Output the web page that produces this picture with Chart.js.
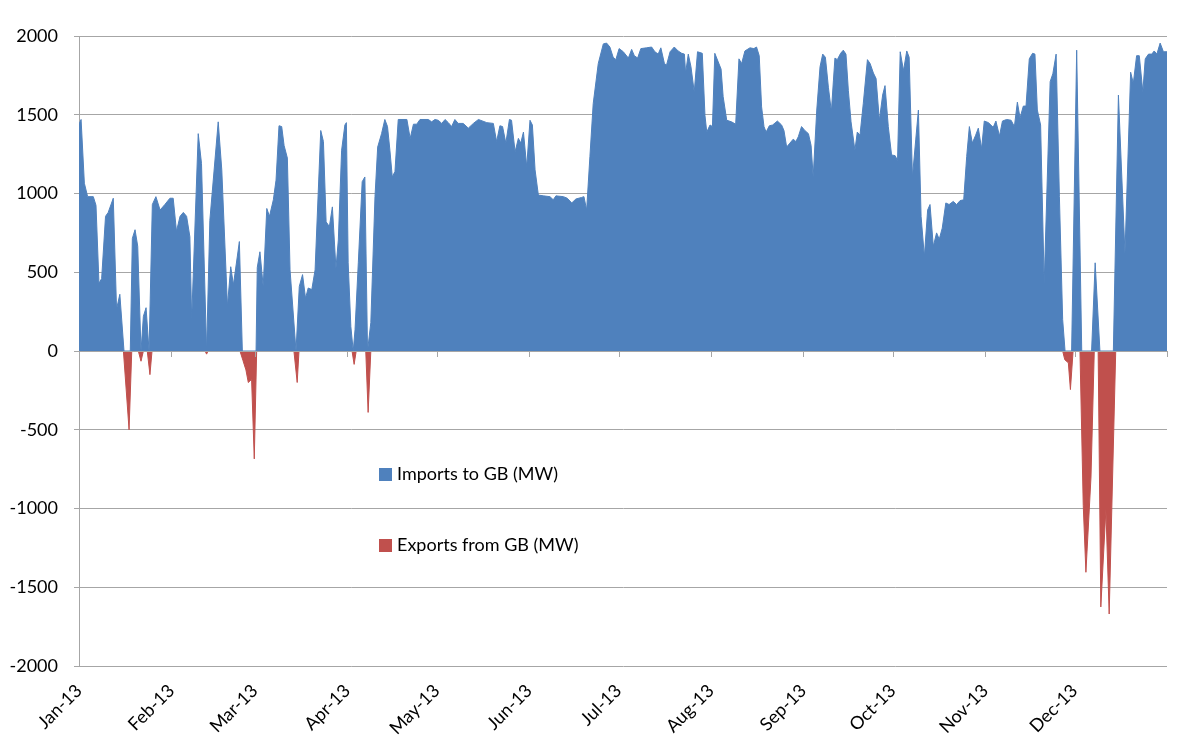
<!DOCTYPE html>
<html>
<head>
<meta charset="utf-8">
<script src="https://cdn.jsdelivr.net/npm/chart.js@4/dist/chart.umd.min.js"></script>
<style>
  body { margin: 0; background: #fff; }
  #wrap { position: relative; width: 1198px; height: 746px; }
  canvas { display: block; }
  .legend-item { position: absolute; font-family: Lato, "Open Sans", sans-serif; font-size: 18px; color: #000; white-space: nowrap; }
  .legend-item span { display: inline-block; width: 13px; height: 13px; margin-right: 5px; vertical-align: -1px; }
</style>
</head>
<body>
<div id="wrap">
  <canvas id="flowChart" width="1198" height="746"></canvas>
  <div class="legend-item" style="left:379px; top:462px;"><span style="background:#4F81BD"></span>Imports to GB (MW)</div>
  <div class="legend-item" style="left:379px; top:533px;"><span style="background:#C0504D"></span>Exports from GB (MW)</div>
</div>
<script>
// day of year (0 = 1 Jan 2013) and MW values
const importDays = [0, 0.7, 1.8, 2.9, 4.8, 5.7, 6.7, 7.6, 8.9, 9.8, 11.5, 12.6, 13.7, 15.1, 17.2, 17.9, 18.8, 19.7, 20.8, 21.6, 22.5, 23.5, 24.6, 25.8, 27.2, 28.8, 30.5, 31.6, 32.7, 33.9, 35.0, 36.1, 37.2, 37.8, 40.0, 41.1, 42.8, 43.9, 46.7, 47.9, 49.8, 50.9, 51.8, 53.8, 54.8, 59.4, 59.8, 60.7, 61.8, 63.0, 63.9, 65.2, 66.1, 67.1, 68.0, 68.8, 69.9, 70.8, 72.8, 73.9, 75.0, 76.0, 76.9, 78.1, 79.2, 81.1, 82.0, 82.9, 84.0, 85.0, 86.2, 87.0, 88.1, 89.2, 89.7, 90.3, 91.2, 92.0, 92.6, 93.7, 95.0, 95.9, 96.8, 97.9, 99.3, 100.2, 101.5, 102.6, 103.5, 104.3, 105.1, 106.0, 107.1, 110.0, 111.1, 112.2, 113.3, 114.4, 117.2, 118.3, 119.4, 120.5, 121.7, 122.8, 123.9, 125.0, 126.1, 127.2, 128.9, 130.6, 132.3, 134.0, 136.8, 139.0, 140.1, 141.2, 142.1, 143.2, 144.4, 145.1, 146.3, 147.4, 148.2, 149.1, 150.2, 151.3, 152.1, 153.0, 154.1, 155.8, 158.0, 159.1, 160.0, 162.5, 163.8, 165.3, 166.7, 168.6, 169.4, 170.3, 171.4, 172.5, 174.2, 175.9, 177.0, 178.1, 179.2, 180.1, 181.2, 182.6, 184.3, 185.4, 186.3, 187.4, 188.5, 190.4, 192.1, 193.2, 194.3, 195.2, 196.4, 197.1, 198.3, 199.7, 201.0, 202.2, 203.1, 203.5, 204.4, 205.3, 206.4, 207.5, 209.1, 210.0, 210.6, 211.7, 212.5, 213.3, 215.4, 216.1, 217.3, 218.9, 220.3, 221.4, 222.3, 223.4, 225.1, 226.4, 227.3, 228.2, 229.0, 229.8, 230.5, 231.6, 232.7, 234.3, 235.7, 236.5, 237.4, 238.5, 239.6, 240.5, 241.3, 242.4, 243.5, 244.7, 245.6, 246.3, 247.5, 248.6, 249.5, 250.4, 251.4, 252.4, 253.1, 253.6, 254.4, 255.5, 256.4, 257.3, 258.1, 259.0, 260.3, 261.1, 262.0, 263.1, 264.5, 265.4, 266.5, 267.4, 268.5, 269.6, 270.4, 271.5, 272.6, 273.8, 274.6, 275.5, 276.6, 277.7, 278.5, 279.6, 280.7, 281.6, 282.5, 283.6, 284.7, 285.5, 286.6, 287.7, 288.6, 289.6, 290.8, 291.9, 293.3, 294.4, 295.6, 296.8, 297.8, 298.7, 299.7, 300.8, 301.7, 302.8, 303.7, 305.1, 306.7, 307.6, 308.8, 309.8, 311.2, 312.7, 313.8, 314.8, 315.7, 316.8, 317.7, 318.8, 319.9, 320.7, 321.5, 322.6, 323.8, 325.8, 326.7, 327.8, 328.9, 330.0, 330.8, 333.0, 334.7, 336.4, 339.7, 340.9, 342.5, 347.0, 348.7, 350.9, 352.8, 353.7, 354.8, 355.7, 356.9, 357.7, 358.8, 359.9, 360.7, 361.6, 362.7, 363.8, 365];
const importMW = [1440, 1470, 1065, 980, 980, 925, 430, 460, 855, 880, 970, 265, 360, 0, 0, 715, 770, 665, 0, 220, 275, 0, 930, 980, 895, 930, 970, 970, 760, 855, 880, 855, 725, 200, 1380, 1190, 0, 830, 1455, 1150, 285, 535, 420, 695, 0, 0, 530, 630, 410, 905, 855, 960, 1085, 1430, 1425, 1305, 1225, 515, 0, 410, 485, 335, 400, 390, 515, 1400, 1330, 820, 790, 915, 525, 705, 1275, 1435, 1450, 560, 155, 0, 135, 560, 1075, 1105, 0, 180, 980, 1295, 1380, 1470, 1425, 1275, 1105, 1140, 1470, 1470, 1350, 1440, 1440, 1470, 1470, 1455, 1470, 1465, 1445, 1470, 1450, 1425, 1470, 1445, 1445, 1415, 1445, 1470, 1450, 1445, 1330, 1430, 1425, 1320, 1470, 1465, 1265, 1350, 1320, 1390, 1170, 1465, 1435, 1150, 990, 985, 980, 960, 985, 980, 970, 940, 965, 975, 980, 895, 1235, 1570, 1825, 1950, 1955, 1930, 1865, 1850, 1920, 1900, 1860, 1915, 1875, 1860, 1920, 1925, 1930, 1900, 1885, 1925, 1825, 1815, 1900, 1930, 1905, 1890, 1885, 1765, 1885, 1805, 1645, 1900, 1890, 1495, 1390, 1435, 1425, 1890, 1790, 1615, 1465, 1455, 1440, 1855, 1825, 1905, 1925, 1920, 1930, 1875, 1550, 1425, 1390, 1430, 1435, 1460, 1435, 1400, 1295, 1320, 1345, 1330, 1360, 1425, 1400, 1380, 1305, 1105, 1530, 1805, 1885, 1865, 1675, 1520, 1720, 1860, 1850, 1890, 1910, 1885, 1655, 1455, 1275, 1390, 1370, 1570, 1850, 1825, 1765, 1730, 1465, 1625, 1685, 1425, 1245, 1240, 1210, 1900, 1780, 1905, 1865, 1105, 1340, 1530, 855, 600, 895, 930, 665, 750, 710, 780, 940, 930, 950, 930, 955, 960, 1235, 1425, 1320, 1370, 1415, 1285, 1460, 1450, 1420, 1460, 1365, 1460, 1470, 1465, 1425, 1580, 1480, 1555, 1555, 1855, 1890, 1885, 1530, 1435, 430, 1710, 1760, 1885, 980, 200, 0, 0, 1910, 0, 0, 560, 0, 0, 1625, 620, 1770, 1700, 1875, 1875, 1645, 1855, 1885, 1885, 1905, 1885, 1955, 1900, 1900];

const exportDays = [0, 14.9, 16.8, 17.7, 19.9, 20.8, 21.6, 22.9, 23.8, 24.5, 42.3, 42.8, 43.3, 54.0, 55.0, 56.0, 56.8, 57.9, 58.8, 59.6, 72.1, 73.2, 73.8, 91.6, 92.3, 93.0, 96.2, 97.0, 97.9, 330.0, 330.7, 331.9, 332.6, 333.5, 335.8, 336.9, 337.8, 339.5, 340.6, 341.9, 342.8, 344.5, 345.6, 347.8, 365];
const exportMW = [0, 0, -500, 0, 0, -65, 0, 0, -150, 0, 0, -20, 0, 0, -60, -120, -200, -180, -685, 0, 0, -200, 0, 0, -85, 0, 0, -390, 0, 0, -55, -75, -245, 0, 0, -980, -1405, -800, 0, 0, -1625, -1005, -1670, 0, 0];

const monthStartDays = [0, 31, 59, 90, 120, 151, 181, 212, 243, 273, 304, 334];
const monthLabels = ['Jan-13', 'Feb-13', 'Mar-13', 'Apr-13', 'May-13', 'Jun-13', 'Jul-13', 'Aug-13', 'Sep-13', 'Oct-13', 'Nov-13', 'Dec-13'];

const gridGray = '#a6a6a6';
const fontFamily = 'Lato, "Open Sans", sans-serif';

// small tick marks hanging under the zero line, like the Excel category axis
const zeroAxisTicks = {
    id: 'zeroAxisTicks',
    afterDatasetsDraw(chart) {
        const ctx = chart.ctx;
        const x = chart.scales.x;
        const y0 = chart.scales.y.getPixelForValue(0);
        ctx.save();
        ctx.strokeStyle = gridGray;
        ctx.lineWidth = 1;
        ctx.beginPath();
        ctx.moveTo(chart.chartArea.left, Math.round(y0) + 0.5);
        ctx.lineTo(chart.chartArea.right, Math.round(y0) + 0.5);
        monthStartDays.concat([365]).forEach(d => {
            const px = Math.round(x.getPixelForValue(d)) + 0.5;
            ctx.moveTo(px, y0);
            ctx.lineTo(px, y0 + 6);
        });
        ctx.stroke();
        ctx.restore();
    }
};

const ctx = document.getElementById('flowChart').getContext('2d');

new Chart(ctx, {
    type: 'line',
    data: {
        datasets: [{
            label: 'Imports to GB (MW)',
            data: importDays.map((d, i) => ({ x: d, y: importMW[i] })),
            borderColor: '#4F81BD',
            backgroundColor: '#4F81BD',
            borderWidth: 1,
            fill: 'origin',
            pointRadius: 0,
            tension: 0
        }, {
            label: 'Exports from GB (MW)',
            data: exportDays.map((d, i) => ({ x: d, y: exportMW[i] })),
            borderColor: '#C0504D',
            backgroundColor: '#C0504D',
            borderWidth: 1,
            fill: 'origin',
            pointRadius: 0,
            tension: 0
        }]
    },
    options: {
        responsive: false,
        animation: false,
        layout: { padding: { top: 36, right: 31, left: 0, bottom: 0 } },
        scales: {
            x: {
                type: 'linear',
                min: 0,
                max: 365,
                afterBuildTicks: scale => {
                    scale.ticks = monthStartDays.map(v => ({ value: v }));
                },
                afterFit: scale => { scale.height = 80; },
                grid: { display: false },
                border: { display: false },
                ticks: {
                    autoSkip: false,
                    minRotation: 45,
                    maxRotation: 45,
                    padding: 6,
                    color: '#000',
                    font: { family: fontFamily, size: 18 },
                    callback: value => monthLabels[monthStartDays.indexOf(value)]
                }
            },
            y: {
                min: -2000,
                max: 2000,
                afterFit: scale => { scale.width = 79; },
                grid: { color: gridGray, tickLength: 5 },
                border: { display: true, color: gridGray },
                ticks: {
                    stepSize: 500,
                    padding: 16,
                    color: '#000',
                    font: { family: fontFamily, size: 18 },
                    callback: value => String(value)
                }
            }
        },
        plugins: {
            legend: { display: false },
            tooltip: { enabled: false }
        }
    },
    plugins: [zeroAxisTicks]
});
</script>
</body>
</html>
